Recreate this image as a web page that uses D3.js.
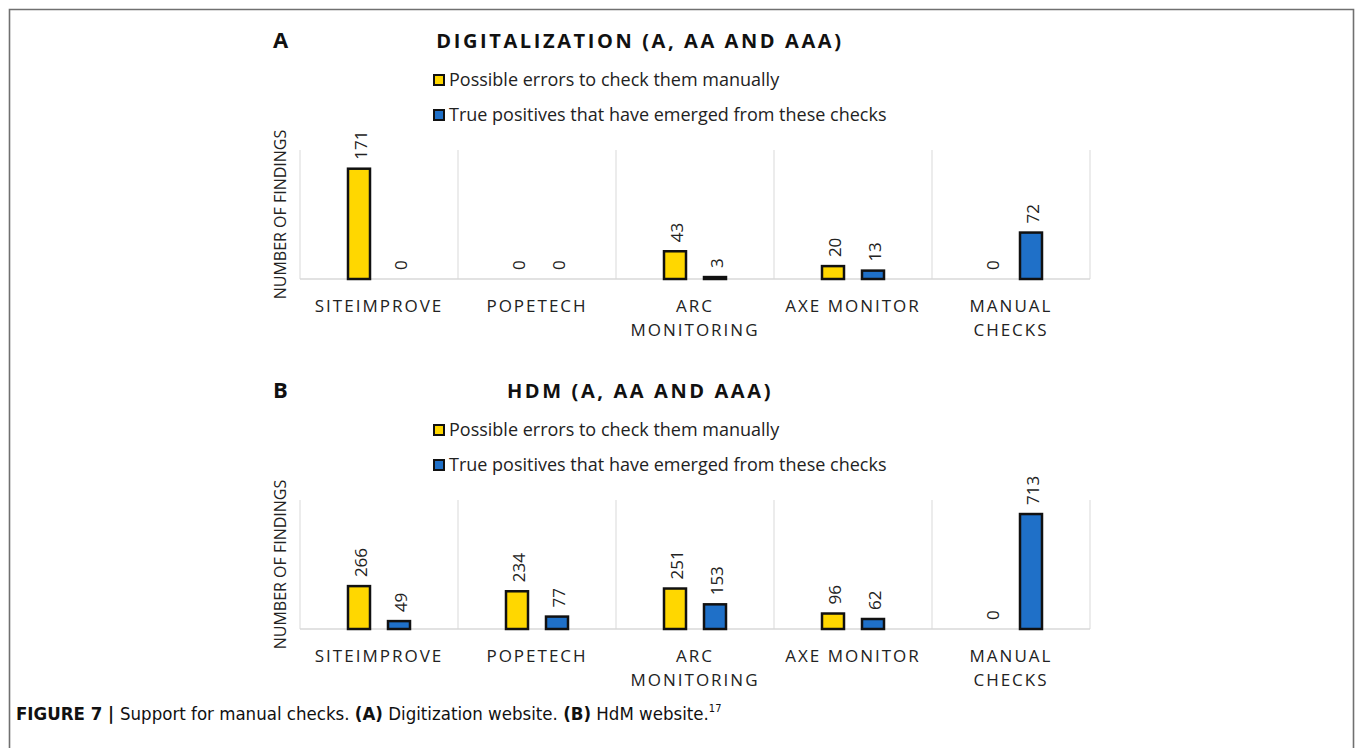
<!DOCTYPE html>
<html>
<head>
<meta charset="utf-8">
<script src="https://cdn.jsdelivr.net/npm/d3@7"></script>
<style>
  html, body { margin: 0; padding: 0; background: #fff; }
  svg { display: block; }
</style>
</head>
<body>
<svg id="chart" width="1355" height="748"></svg>
<script>
const categories = ["SITEIMPROVE", "POPETECH", "ARC\nMONITORING", "AXE MONITOR", "MANUAL\nCHECKS"];
const seriesNames = ["Possible errors to check them manually", "True positives that have emerged from these checks"];
const seriesColors = ["#ffd700", "#1f70c8"];

const digitalizationPossible = [171, 0, 43, 20, 0];
const digitalizationTrue = [0, 0, 3, 13, 72];
const hdmPossible = [266, 234, 251, 96, 0];
const hdmTrue = [49, 77, 153, 62, 713];

const panels = [
  { letter: "A", title: "DIGITALIZATION (A, AA AND AAA)", values: [digitalizationPossible, digitalizationTrue], yMax: 200, top: 0 },
  { letter: "B", title: "HDM (A, AA AND AAA)", values: [hdmPossible, hdmTrue], yMax: 800, top: 350 }
];

const svg = d3.select("#chart");
const font = "'Open Sans', sans-serif";

// page frame
svg.append("path")
  .attr("d", "M9.5,760 V9.5 H1353.5 V760")
  .attr("fill", "none")
  .attr("stroke", "#707070")
  .attr("stroke-width", 1.6);

const x0 = d3.scaleBand().domain(d3.range(categories.length)).range([300, 1090]);
const x1 = d3.scaleBand().domain([0, 1]).range([48, 110]).paddingInner(0.45);

function drawPanel(p) {
  const g = svg.append("g").attr("transform", `translate(0,${p.top})`);
  const y = d3.scaleLinear().domain([0, p.yMax]).range([279, 150]);

  g.append("text").attr("x", 273).attr("y", 48)
    .attr("font-family", font).attr("font-weight", 700).attr("font-size", 22)
    .attr("fill", "#111").text(p.letter);

  g.append("text").attr("x", 640).attr("y", 48).attr("text-anchor", "middle")
    .attr("font-family", font).attr("font-weight", 700).attr("font-size", 20)
    .attr("letter-spacing", 2.6).attr("fill", "#111").text(p.title);

  // legend
  seriesNames.forEach((name, i) => {
    const ly = 80 + i * 35;
    g.append("rect").attr("x", 434).attr("y", ly - 5).attr("width", 10).attr("height", 10)
      .attr("fill", seriesColors[i]).attr("stroke", "#111").attr("stroke-width", 2);
    g.append("text").attr("x", 449).attr("y", ly + 6)
      .attr("font-family", font).attr("font-size", 18).attr("fill", "#222").text(name);
  });

  // gridlines and base
  const edges = categories.map((c, i) => x0(i)).concat([x0.range()[1]]);
  g.selectAll(".grid").data(edges).join("line")
    .attr("x1", d => d).attr("x2", d => d)
    .attr("y1", y.range()[1]).attr("y2", y(0))
    .attr("stroke", "#d9d9d9").attr("stroke-width", 1);
  g.append("line").attr("x1", 300).attr("x2", 1090).attr("y1", y(0)).attr("y2", y(0))
    .attr("stroke", "#d9d9d9").attr("stroke-width", 1.5);

  // bars and labels
  p.values.forEach((vals, s) => {
    const cells = vals.map((v, i) => ({ v, i }));
    g.selectAll(`.bar${s}`).data(cells.filter(d => d.v > 0)).join("rect")
      .attr("x", d => x0(d.i) + x1(s))
      .attr("y", d => y(d.v))
      .attr("width", x1.bandwidth())
      .attr("height", d => y(0) - y(d.v))
      .attr("fill", seriesColors[s])
      .attr("stroke", "#111").attr("stroke-width", 2.5);
    g.selectAll(`.lab${s}`).data(cells).join("text")
      .attr("transform", d => `translate(${x0(d.i) + x1(s) + x1.bandwidth() / 2 + 8},${y(d.v) - 9}) rotate(-90)`)
      .attr("font-family", font).attr("font-size", 17).attr("fill", "#222")
      .text(d => d.v);
  });

  // category labels
  categories.forEach((c, i) => {
    const t = g.append("text").attr("text-anchor", "middle")
      .attr("font-family", font).attr("font-size", 17).attr("letter-spacing", 2)
      .attr("fill", "#222");
    c.split("\n").forEach((line, k) => {
      t.append("tspan").attr("x", x0(i) + x0.bandwidth() / 2).attr("y", 312 + k * 24).text(line);
    });
  });

  g.append("text")
    .attr("transform", `translate(286,${(y.range()[1] + y(0)) / 2}) rotate(-90)`)
    .attr("text-anchor", "middle")
    .attr("font-family", font).attr("font-size", 16).attr("fill", "#222")
    .text("NUMBER OF FINDINGS");
}

panels.forEach(drawPanel);

// caption
const cap = svg.append("text").attr("x", 16).attr("y", 720)
  .attr("font-family", "'Liberation Sans Narrow', 'DejaVu Sans Condensed', sans-serif")
  .attr("font-size", 18.5).attr("fill", "#111");
cap.append("tspan").attr("font-weight", 700).text("FIGURE 7 | ");
cap.append("tspan").text("Support for manual checks. ");
cap.append("tspan").attr("font-weight", 700).text("(A)");
cap.append("tspan").text(" Digitization website. ");
cap.append("tspan").attr("font-weight", 700).text("(B)");
cap.append("tspan").text(" HdM website.");
cap.append("tspan").attr("font-size", 11).attr("dy", -8).text("17");
</script>
</body>
</html>
